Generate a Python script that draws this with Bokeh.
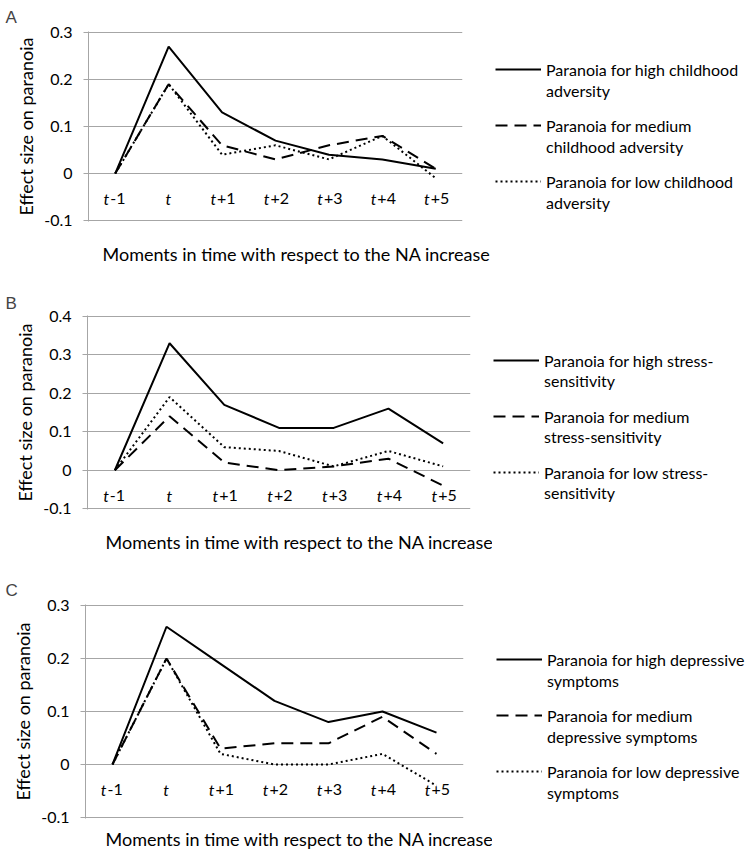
from bokeh.plotting import figure
from bokeh.models import FactorRange, Range1d, FixedTicker, Legend, LegendItem, ColumnDataSource, Title
from bokeh.layouts import column, row
from bokeh.embed import file_html
from bokeh.resources import INLINE
from bokeh.core.properties import value

# ---------------- data ----------------
moments = ["t-1", "t", "t+1", "t+2", "t+3", "t+4", "t+5"]

a_high = [0, 0.27, 0.13, 0.07, 0.04, 0.03, 0.01]
a_medium = [0, 0.19, 0.06, 0.03, 0.06, 0.08, 0.01]
a_low = [0, 0.19, 0.04, 0.06, 0.03, 0.08, -0.01]

b_high = [0, 0.33, 0.17, 0.11, 0.11, 0.16, 0.07]
b_medium = [0, 0.14, 0.02, 0.00, 0.01, 0.03, -0.04]
b_low = [0, 0.19, 0.06, 0.05, 0.01, 0.05, 0.01]

c_high = [0, 0.26, 0.19, 0.12, 0.08, 0.10, 0.06]
c_medium = [0, 0.20, 0.03, 0.04, 0.04, 0.09, 0.02]
c_low = [0, 0.20, 0.02, 0.00, 0.00, 0.02, -0.04]

legend_a = [("Paranoia for high childhood", "adversity"),
            ("Paranoia for medium", "childhood adversity"),
            ("Paranoia for low childhood", "adversity")]
legend_b = [("Paranoia for high stress-", "sensitivity"),
            ("Paranoia for medium", "stress-sensitivity"),
            ("Paranoia for low stress-", "sensitivity")]
legend_c = [("Paranoia for high depressive", "symptoms"),
            ("Paranoia for medium", "depressive symptoms"),
            ("Paranoia for low depressive", "symptoms")]

ticks_a = [-0.1, 0, 0.1, 0.2, 0.3]
tick_labels_a = ["-0.1", "0", "0.1", "0.2", "0.3"]
ticks_b = [-0.1, 0, 0.1, 0.2, 0.3, 0.4]
tick_labels_b = ["-0.1", "0", "0.1", "0.2", "0.3", "0.4"]
ticks_c = [-0.1, 0, 0.1, 0.2, 0.3]
tick_labels_c = ["-0.1", "0", "0.1", "0.2", "0.3"]

x_title = "Moments in time with respect to the NA increase"
y_title = "Effect size on paranoia"

# ---------------- styling ----------------
GRID = "#a6a6a6"
FONT = "Lato"
STYLES = [dict(line_dash="solid"), dict(line_dash="12 7"), dict(line_dash="2 3")]
W = 750
MAIN_W = 492


def make_panel(letter, series, names, ticks, tick_labels, fig_h, frame_left, frame_w,
               border_top, border_bottom, letter_standoff, xtitle_standoff, xtitle_offset,
               leg_x, leg_y1, leg_y2):
    yr = Range1d(ticks[0] - 0.002, ticks[-1] + 0.002)
    p = figure(width=MAIN_W, height=fig_h,
               x_range=FactorRange(*moments, range_padding=0), y_range=yr,
               output_backend="svg", toolbar_location=None,
               min_border_left=frame_left, min_border_right=MAIN_W - frame_left - frame_w,
               min_border_top=border_top, min_border_bottom=border_bottom)
    p.outline_line_color = None
    p.border_fill_color = "white"

    # panel letter
    p.title.text = letter
    p.title.text_font = "Liberation Sans"
    p.title.text_font_size = "17px"
    p.title.text_font_style = "normal"
    p.title.align = "left"
    p.title.offset = 5 - frame_left
    p.title.standoff = letter_standoff

    # grid / y axis
    p.xgrid.visible = False
    p.ygrid.grid_line_color = GRID
    p.ygrid.grid_line_width = 1
    p.yaxis.ticker = FixedTicker(ticks=ticks)
    p.yaxis.major_label_overrides = {t: s for t, s in zip(ticks, tick_labels)}
    p.yaxis.axis_line_color = GRID
    p.yaxis.major_tick_line_color = GRID
    p.yaxis.major_tick_out = 5
    p.yaxis.major_tick_in = 0
    p.yaxis.minor_tick_line_color = None
    p.yaxis.major_label_standoff = 11
    p.yaxis.major_label_text_font = FONT
    p.yaxis.major_label_text_font_size = "16px"
    p.yaxis.major_label_text_color = "black"
    p.yaxis.axis_label = y_title
    p.yaxis.axis_label_text_font = FONT
    p.yaxis.axis_label_text_font_size = "18px"
    p.yaxis.axis_label_text_font_style = "normal"
    p.yaxis.axis_label_text_color = "black"
    p.yaxis.axis_label_standoff = 4

    # x axis hidden; its title is a below-title, tick labels drawn at zero line
    p.xaxis.visible = False
    xt = Title(text=x_title, align="left", offset=xtitle_offset, vertical_align="middle",
               text_font=FONT, text_font_size="18px", text_font_style="normal",
               text_color="black", standoff=xtitle_standoff)
    p.add_layout(xt, "below")

    suffix = [m[1:] for m in moments]
    src = ColumnDataSource(dict(
        x=moments, y=[0] * len(moments),
        t=[m[0] for m in moments], s=suffix,
        t_off=[-6 if s else 2.5 for s in suffix],
    ))
    p.text(x="x", y="y", text="t", source=src, x_offset="t_off", y_offset=25,
           text_font=value(FONT), text_font_style="italic", text_font_size="16px",
           text_align="right", text_baseline="middle", text_color="black")
    p.text(x="x", y="y", text="s", source=src, x_offset=-5, y_offset=25,
           text_font=value(FONT), text_font_size="16px",
           text_align="left", text_baseline="middle", text_color="black")

    for vals, st in zip(series, STYLES):
        p.line(moments, vals, line_color="black", line_width=2, **st)

    # legend panel (separate canvas to the right of the plot area)
    q = figure(width=W - MAIN_W, height=fig_h, x_range=FactorRange(*moments), y_range=yr,
               output_backend="svg", toolbar_location=None,
               x_axis_location=None, y_axis_location=None,
               min_border_left=0, min_border_right=0,
               min_border_top=border_top, min_border_bottom=border_bottom)
    q.outline_line_color = None
    q.grid.visible = False
    rs = []
    for vals, st in zip(series, STYLES):
        rs.append(q.line(moments, vals, line_color="black", line_width=2, visible=False, **st))

    common = dict(glyph_height=20, label_height=20, label_text_font=FONT,
                  label_text_font_size="16px", label_text_color="black",
                  spacing=36, padding=0, margin=0, border_line_color=None,
                  background_fill_alpha=0, inactive_fill_alpha=0)
    first = Legend(items=[LegendItem(label=a, renderers=[r]) for (a, b), r in zip(names, rs)],
                   location=(leg_x, leg_y1), glyph_width=46, label_standoff=5, **common)
    second = Legend(items=[LegendItem(label=b, renderers=[r]) for (a, b), r in zip(names, rs)],
                    location=(leg_x, leg_y2), glyph_width=0, label_standoff=51, **common)
    q.add_layout(first, "center")
    q.add_layout(second, "center")
    return row(p, q, spacing=0)


pA = make_panel("A", [a_high, a_medium, a_low], legend_a, ticks_a, tick_labels_a,
                fig_h=286, frame_left=88, frame_w=374, border_top=31, border_bottom=64,
                letter_standoff=10, xtitle_standoff=41, xtitle_offset=14,
                leg_x=3, leg_y1=30, leg_y2=9)
pB = make_panel("B", [b_high, b_medium, b_low], legend_b, ticks_b, tick_labels_b,
                fig_h=288, frame_left=87, frame_w=383, border_top=29, border_bottom=63,
                letter_standoff=6, xtitle_standoff=41, xtitle_offset=18,
                leg_x=1, leg_y1=27, leg_y2=7)
pC = make_panel("C", [c_high, c_medium, c_low], legend_c, ticks_c, tick_labels_c,
                fig_h=285, frame_left=85, frame_w=378, border_top=29, border_bottom=39,
                letter_standoff=9, xtitle_standoff=17, xtitle_offset=20,
                leg_x=4, leg_y1=37, leg_y2=16)

layout = column(pA, pB, pC, spacing=0)
open("out.html", "w").write(file_html(layout, INLINE))
